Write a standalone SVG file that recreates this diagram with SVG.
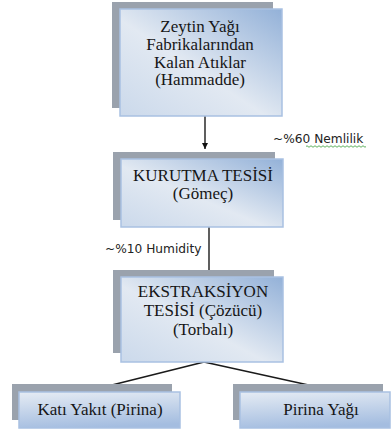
<svg xmlns="http://www.w3.org/2000/svg" width="391" height="431" viewBox="0 0 391 431">
  <defs>
    <linearGradient id="boxFill" x1="1" y1="0" x2="0" y2="1">
      <stop offset="0" stop-color="#93b1d8"/>
      <stop offset="0.55" stop-color="#e2e9f2"/>
      <stop offset="1" stop-color="#cbd9eb"/>
    </linearGradient>
    <linearGradient id="smallFill" x1="0.2" y1="0" x2="0.4" y2="1">
      <stop offset="0" stop-color="#e3eaf3"/>
      <stop offset="1" stop-color="#a4bde0"/>
    </linearGradient>
    <marker id="arrow" viewBox="0 0 10 10" refX="10" refY="5" markerWidth="6" markerHeight="6" markerUnits="userSpaceOnUse" orient="auto">
      <path d="M0,0 L10,5 L0,10 z" fill="#111"/>
    </marker>
  </defs>
  <style>
    .shadow { fill: #9aa2ad; }
    .front { fill: url(#boxFill); stroke: #a9c1e2; stroke-width: 1.5; }
    .frontSmall { fill: url(#smallFill); stroke: #a9c1e2; stroke-width: 1.5; }
    .label { font-family: "Liberation Serif", "Times New Roman", serif; font-size: 17px; fill: #161616; text-anchor: middle; }
    .note { font-family: "DejaVu Sans", "Open Sans", sans-serif; font-size: 12.2px; fill: #222; }
    .conn { stroke: #1a1a1a; stroke-width: 1.4; fill: none; }
  </style>

  <g id="connectors">
    <line class="conn" x1="205" y1="116" x2="205" y2="149" marker-end="url(#arrow)"/>
    <line class="conn" x1="209" y1="227" x2="209" y2="277" marker-end="url(#arrow)"/>
    <line class="conn" x1="204" y1="362" x2="112" y2="385"/>
    <line class="conn" x1="204" y1="362" x2="313" y2="386"/>
  </g>

  <g id="raw-material">
    <rect class="shadow" x="112" y="2" width="161" height="106"/>
    <rect class="front" x="120" y="9" width="162" height="107"/>
    <text class="label" x="200" y="32">Zeytin Yağı</text>
    <text class="label" x="200" y="50">Fabrikalarından</text>
    <text class="label" x="200" y="67.5">Kalan Atıklar</text>
    <text class="label" x="200" y="85">(Hammadde)</text>
  </g>

  <g id="note-moisture">
    <text class="note" x="273" y="143">~%60 Nemlilik</text>
    <path d="M306,146.5 q1,-1.5 2,0 t2,0 t2,0 t2,0 t2,0 t2,0 t2,0 t2,0 t2,0 t2,0 t2,0 t2,0 t2,0 t2,0 t2,0 t2,0 t2,0 t2,0 t2,0 t2,0 t2,0 t2,0 t2,0 t2,0 t2,0 t2,0 t2,0 t2,0 t2,0 t2,0" fill="none" stroke="#4fa84f" stroke-width="0.9"/>
  </g>

  <g id="drying">
    <rect class="shadow" x="113" y="152" width="162" height="68"/>
    <rect class="front" x="121" y="159" width="162" height="68"/>
    <text class="label" x="203" y="181">KURUTMA TESİSİ</text>
    <text class="label" x="203" y="199">(Gömeç)</text>
  </g>

  <g id="note-humidity">
    <text class="note" x="105" y="253">~%10 Humidity</text>
  </g>

  <g id="extraction">
    <rect class="shadow" x="113" y="270" width="161" height="83"/>
    <rect class="front" x="121" y="277" width="162" height="85"/>
    <text class="label" x="203" y="297">EKSTRAKSİYON</text>
    <text class="label" x="203" y="316">TESİSİ (Çözücü)</text>
    <text class="label" x="203" y="335">(Torbalı)</text>
  </g>

  <g id="solid-fuel">
    <rect class="shadow" x="12" y="384" width="160" height="36"/>
    <rect class="frontSmall" x="19" y="392" width="161" height="36"/>
    <text class="label" x="100" y="415">Katı Yakıt (Pirina)</text>
  </g>

  <g id="pomace-oil">
    <rect class="shadow" x="233" y="384" width="150" height="36"/>
    <rect class="frontSmall" x="240" y="392" width="150" height="36"/>
    <text class="label" x="321" y="415">Pirina Yağı</text>
  </g>
</svg>
